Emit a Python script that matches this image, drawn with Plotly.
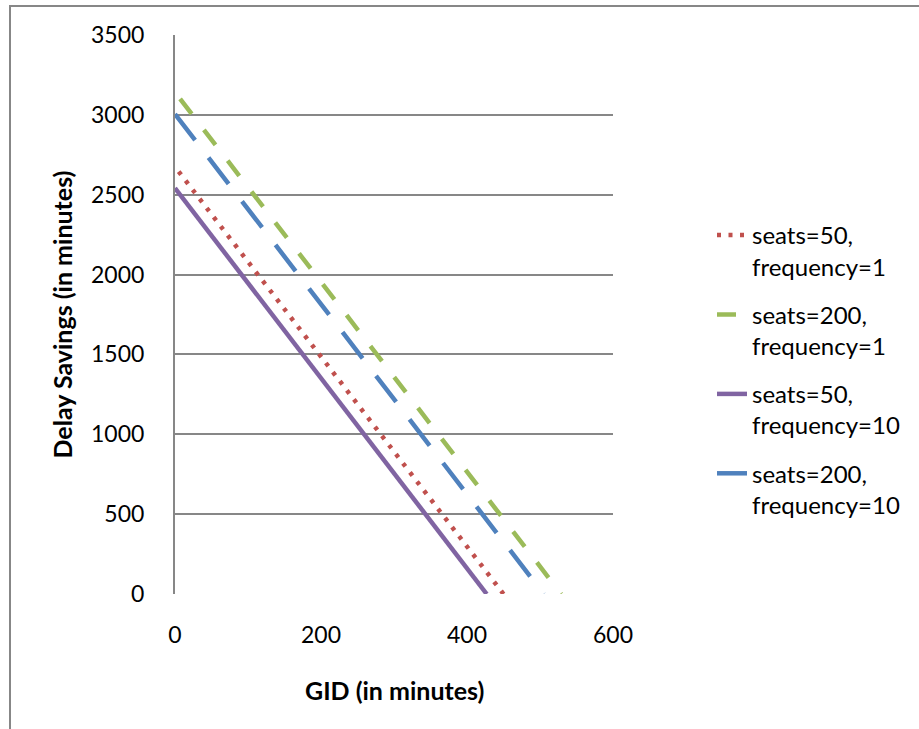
import plotly.graph_objects as go

# Data
series_names = ["seats=50,<br>frequency=1", "seats=200,<br>frequency=1",
                "seats=50,<br>frequency=10", "seats=200,<br>frequency=10"]
gid_s50_f1 = [5, 450]
delay_s50_f1 = [2645, 0]
gid_s200_f1 = [7, 529]
delay_s200_f1 = [3100, 0]
gid_s50_f10 = [0, 427]
delay_s50_f10 = [2542, 0]
gid_s200_f10 = [0, 505]
delay_s200_f10 = [3005, 0]

x_ticks = [0, 200, 400, 600]
y_ticks = [0, 500, 1000, 1500, 2000, 2500, 3000, 3500]

FONT = "Lato"
GRID = "#878787"

styles = [
    dict(color="#C0504D", dash="4px,7.5px"),
    dict(color="#9BBB59", dash="19px,20px"),
    dict(color="#8064A2", dash="solid"),
    dict(color="#4F81BD", dash="33px,22px"),
]
xs = [gid_s50_f1, gid_s200_f1, gid_s50_f10, gid_s200_f10]
ys = [delay_s50_f1, delay_s200_f1, delay_s50_f10, delay_s200_f10]

fig = go.Figure()
for i, (name, x, y, st) in enumerate(zip(series_names, xs, ys, styles)):
    fig.add_trace(go.Scatter(
        x=x, y=y, mode="lines", name=name, legendgroup=f"g{i}",
        line=dict(color=st["color"], width=4.5, dash=st["dash"]),
    ))

fig.update_layout(
    width=919, height=729,
    margin=dict(l=175, r=306, t=35, b=135),
    paper_bgcolor="white", plot_bgcolor="white",
    font=dict(family=FONT, size=23, color="black"),
    showlegend=True,
    legend=dict(
        x=1.0 + (712 - 613) / 438, xanchor="left",
        y=(594 - 213) / 559, yanchor="top",
        valign="top", tracegroupgap=14,
        font=dict(family=FONT, size=24, color="black"),
        bgcolor="rgba(0,0,0,0)",
    ),
    xaxis=dict(
        range=[0, 600], tickvals=x_ticks, showgrid=False, zeroline=False,
        showline=False, ticks="", ticklabelstandoff=25,
        tickfont=dict(family=FONT, size=23, color="black"),
    ),
    yaxis=dict(
        range=[0, 3500], tickvals=y_ticks, showgrid=True, gridcolor=GRID,
        gridwidth=2, zeroline=False, showline=True, linecolor=GRID,
        linewidth=2, ticks="", ticklabelstandoff=24,
        tickfont=dict(family=FONT, size=23, color="black"),
    ),
    annotations=[
        dict(text="<b>GID (in minutes)</b>", xref="paper", yref="paper",
             x=0.5, y=(594 - 690) / 559, xanchor="center", yanchor="middle",
             showarrow=False, font=dict(family=FONT, size=25, color="black")),
        dict(text="<b>Delay Savings (in minutes)</b>", xref="paper", yref="paper",
             x=(61 - 175) / 438, y=0.5, xanchor="center", yanchor="middle",
             textangle=-90, showarrow=False,
             font=dict(family=FONT, size=25, color="black")),
    ],
    shapes=[
        dict(type="rect", xref="paper", yref="paper",
             x0=(10 - 175) / 438, x1=(930 - 175) / 438,
             y0=(594 - 740) / 559, y1=(594 - 6) / 559,
             line=dict(color=GRID, width=2), fillcolor="rgba(0,0,0,0)",
             layer="below"),
    ],
)

fig.write_html("out.html")
